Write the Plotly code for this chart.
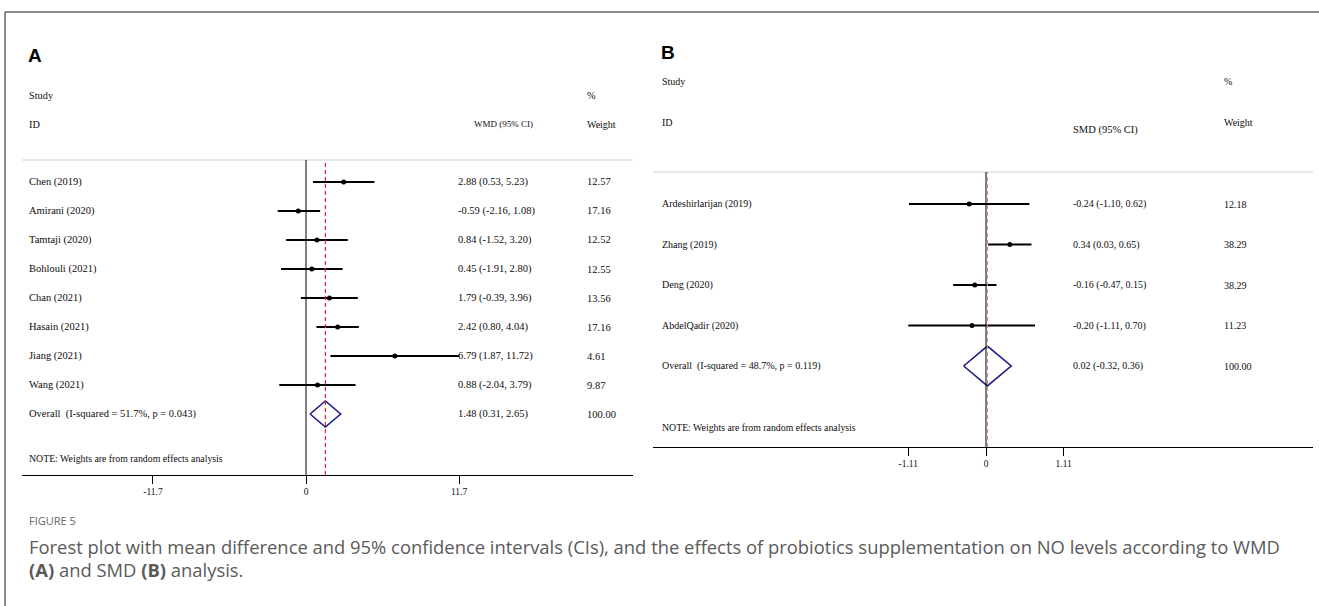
import plotly.graph_objects as go

W, H = 1319, 606

# ---------------- Panel A data (WMD) ----------------
a_studies = ["Chen (2019)", "Amirani (2020)", "Tamtaji (2020)", "Bohlouli (2021)",
             "Chan (2021)", "Hasain (2021)", "Jiang (2021)", "Wang (2021)"]
a_est = [2.88, -0.59, 0.84, 0.45, 1.79, 2.42, 6.79, 0.88]
a_lo = [0.53, -2.16, -1.52, -1.91, -0.39, 0.80, 1.87, -2.04]
a_hi = [5.23, 1.08, 3.20, 2.80, 3.96, 4.04, 11.72, 3.79]
a_wt = [12.57, 17.16, 12.52, 12.55, 13.56, 17.16, 4.61, 9.87]
a_overall = [1.48, 0.31, 2.65]
a_overall_label = "Overall  (I-squared = 51.7%, p = 0.043)"
a_ticks = [-11.7, 0, 11.7]
a_ticklabels = ["-11.7", "0", "11.7"]

# ---------------- Panel B data (SMD) ----------------
b_studies = ["Ardeshirlarijan (2019)", "Zhang (2019)", "Deng (2020)", "AbdelQadir (2020)"]
b_est = [-0.24, 0.34, -0.16, -0.20]
b_lo = [-1.10, 0.03, -0.47, -1.11]
b_hi = [0.62, 0.65, 0.15, 0.70]
b_wt = [12.18, 38.29, 38.29, 11.23]
b_overall = [0.02, -0.32, 0.36]
b_overall_label = "Overall  (I-squared = 48.7%, p = 0.119)"
b_ticks = [-1.11, 0, 1.11]
b_ticklabels = ["-1.11", "0", "1.11"]

note_text = "NOTE: Weights are from random effects analysis"

SERIF = "Liberation Serif, Times New Roman, serif"
TXT = "#0d0d0d"
NAVY = "#1c1c86"
RED = "#d4262e"


def px(x):
    return x / W


def py(y):
    return 1 - y / H


fig = go.Figure()
annotations = []
shapes = []


def panel(xa, ya, studies, est, lo, hi, wt, overall, overall_label, diamond_h,
          name_x, est_x, wt_x, red_color, fsize):
    xr = "x" if xa == "xaxis" else "x2"
    yr = "y" if ya == "yaxis" else "y2"
    n = len(studies)
    cx, cy = [], []
    for i in range(n):
        cx += [lo[i], hi[i], None]
        cy += [i, i, None]
    fig.add_trace(go.Scatter(x=cx, y=cy, mode="lines", xaxis=xr, yaxis=yr,
                             line=dict(color="black", width=2), hoverinfo="skip",
                             showlegend=False))
    fig.add_trace(go.Scatter(x=est, y=list(range(n)), mode="markers", xaxis=xr, yaxis=yr,
                             marker=dict(color="black", size=5, symbol="circle"),
                             showlegend=False))
    e, l, h = overall
    r = n
    fig.add_trace(go.Scatter(x=[l, e, h, e, l], y=[r, r - diamond_h, r, r + diamond_h, r],
                             mode="lines", xaxis=xr, yaxis=yr,
                             line=dict(color=NAVY, width=1.6), showlegend=False))
    shapes.append(dict(type="line", xref=f"{xr} domain", yref=f"{yr} domain",
                       x0=0, x1=1, y0=1, y1=1, line=dict(color="#cfcfcf", width=1.2)))
    shapes.append(dict(type="line", xref=xr, yref=f"{yr} domain", x0=0, x1=0, y0=0, y1=1,
                       line=dict(color="black", width=1)))
    shapes.append(dict(type="line", xref=xr, yref=f"{yr} domain", x0=e, x1=e, y0=0, y1=1,
                       line=dict(color=red_color, width=1.2, dash="4px,3px")))
    labels = list(studies) + [overall_label]
    ests = [f"{est[i]:.2f} ({lo[i]:.2f}, {hi[i]:.2f})" for i in range(n)] + \
           [f"{e:.2f} ({l:.2f}, {h:.2f})"]
    wts = [f"{w:.2f}" for w in wt] + ["100.00"]
    for i in range(n + 1):
        for xx, t in ((name_x, labels[i]), (est_x, ests[i]), (wt_x, wts[i])):
            annotations.append(dict(x=px(xx), y=i, xref="paper", yref=yr, text=t,
                                    showarrow=False, xanchor="left", yanchor="middle",
                                    font=dict(family=SERIF, size=fsize, color=TXT)))


panel("xaxis", "yaxis", a_studies, a_est, a_lo, a_hi, a_wt, a_overall, a_overall_label,
      0.45, 27, 456, 585, RED, 10.5)
panel("xaxis2", "yaxis2", b_studies, b_est, b_lo, b_hi, b_wt, b_overall, b_overall_label,
      0.49, 660, 1071, 1222, "#d08c8c", 10)


def txt(x, y, t, size=10, family=SERIF, color=TXT, anchor="left"):
    annotations.append(dict(x=px(x), y=py(y), xref="paper", yref="paper", text=t,
                            showarrow=False, xanchor=anchor, yanchor="middle",
                            font=dict(family=family, size=size, color=color)))


# Panel A headers
txt(26, 55, "<b>A</b>", size=19, family="Liberation Sans, Arial, sans-serif", color="black")
txt(27, 95, "Study", size=10.3)
txt(585, 95, "%", size=10.3)
txt(27, 124, "ID", size=10.3)
txt(472, 124, "WMD (95% CI)", size=9)
txt(585, 124, "Weight", size=10)
txt(27, 458, note_text, size=9.8)

# Panel B headers
txt(659, 52, "<b>B</b>", size=19, family="Liberation Sans, Arial, sans-serif", color="black")
txt(660, 81, "Study")
txt(1222, 81, "%")
txt(660, 122, "ID")
txt(1071, 130, "SMD (95% CI)", size=10.5)
txt(1222, 122, "Weight")
txt(660, 427, note_text, size=9.8)

# Caption
CAP = "Open Sans, Noto Sans, sans-serif"
txt(27, 520, "FIGURE 5", size=11, family=CAP, color="#666666")
txt(27, 546, "Forest plot with mean difference and 95% confidence intervals (CIs), and the effects "
             "of probiotics supplementation on NO levels according to WMD",
    size=18.4, family=CAP, color="#5a5a5a")
txt(27, 569, "<b>(A)</b> and SMD <b>(B)</b> analysis.", size=18.4, family=CAP, color="#5a5a5a")

# Frame
shapes.append(dict(type="line", xref="paper", yref="paper", x0=px(5), x1=1.0, y0=py(12), y1=py(12),
                   line=dict(color="#666666", width=1.5)))
shapes.append(dict(type="line", xref="paper", yref="paper", x0=px(5), x1=px(5), y0=py(12), y1=0,
                   line=dict(color="#666666", width=1.5)))

a_x0, a_x1, a_zero, a_scale = 22, 633, 306, 13.08
b_x0, b_x1, b_zero, b_scale = 653, 1313, 986, 70.0


def xaxis_cfg(x0, x1, zero, scale, ticks, labels):
    return dict(domain=[px(x0), px(x1)],
                range=[(x0 - zero) / scale, (x1 - zero) / scale],
                showline=True, linecolor="black", linewidth=1,
                ticks="outside", ticklen=8, tickcolor="black", tickwidth=1,
                tickvals=ticks, ticktext=labels,
                tickfont=dict(family=SERIF, size=9.5, color=TXT),
                showgrid=False, zeroline=False, fixedrange=True)


a_top, a_bot, a_row0, a_step = 160, 475, 182, 29.0
b_top, b_bot, b_row0, b_step = 172, 447, 204, 40.5

fig.update_layout(
    width=W, height=H, margin=dict(l=0, r=0, t=0, b=0),
    paper_bgcolor="white", plot_bgcolor="white", showlegend=False,
    xaxis=xaxis_cfg(a_x0, a_x1, a_zero, a_scale, a_ticks, a_ticklabels) | dict(anchor="y"),
    yaxis=dict(domain=[py(a_bot), py(a_top)],
               range=[(a_bot - a_row0) / a_step, (a_top - a_row0) / a_step],
               visible=False, fixedrange=True, anchor="x"),
    xaxis2=xaxis_cfg(b_x0, b_x1, b_zero, b_scale, b_ticks, b_ticklabels) | dict(anchor="y2"),
    yaxis2=dict(domain=[py(b_bot), py(b_top)],
                range=[(b_bot - b_row0) / b_step, (b_top - b_row0) / b_step],
                visible=False, fixedrange=True, anchor="x2"),
    annotations=annotations, shapes=shapes,
)

fig.write_html("out.html", config={"displayModeBar": False},
               post_script="document.body.style.margin='0';")
